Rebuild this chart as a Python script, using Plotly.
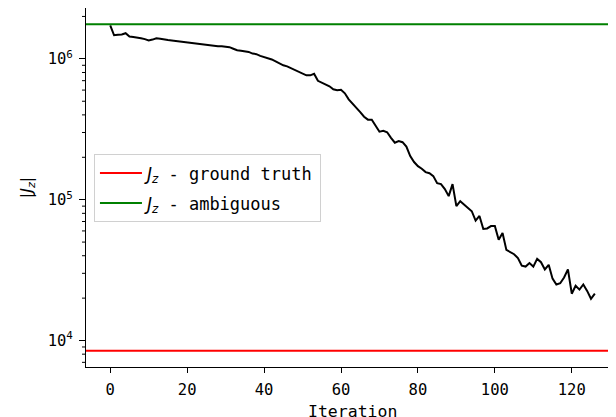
import plotly.graph_objects as go

# ---- data ----
iterations = list(range(127))
jz_values = [
    1.73e6, 1.47e6, 1.48e6, 1.49e6, 1.52e6, 1.44e6, 1.43e6, 1.42e6, 1.40e6, 1.38e6,
    1.35e6, 1.37e6, 1.40e6, 1.39e6, 1.37e6, 1.36e6, 1.35e6, 1.34e6, 1.33e6, 1.31e6,
    1.30e6, 1.30e6, 1.29e6, 1.28e6, 1.27e6, 1.25e6, 1.25e6, 1.24e6, 1.23e6, 1.23e6,
    1.22e6, 1.21e6, 1.18e6, 1.15e6, 1.14e6, 1.13e6, 1.12e6, 1.09e6, 1.08e6, 1.05e6,
    1.03e6, 1.02e6, 9.9e5, 9.6e5, 9.25e5, 9.0e5, 8.85e5, 8.6e5, 8.35e5, 8.15e5,
    7.95e5, 7.64e5, 7.64e5, 7.83e5, 6.98e5, 6.76e5, 6.59e5, 6.38e5, 6.08e5, 5.98e5,
    6.03e5, 5.69e5, 5.16e5, 4.83e5, 4.45e5, 4.18e5, 3.88e5, 3.70e5, 3.70e5, 3.38e5,
    3.04e5, 3.08e5, 3.01e5, 2.75e5, 2.54e5, 2.61e5, 2.56e5, 2.38e5, 2.04e5, 1.85e5,
    1.73e5, 1.66e5, 1.57e5, 1.54e5, 1.47e5, 1.31e5, 1.29e5, 1.19e5, 1.06e5, 1.29e5,
    9.0e4, 9.76e4, 9.2e4, 8.8e4, 8.28e4, 7.1e4, 7.67e4, 6.2e4, 6.25e4, 6.5e4,
    6.5e4, 5.2e4, 5.8e4, 4.4e4, 4.25e4, 4.1e4, 3.85e4, 3.4e4, 3.35e4, 3.55e4,
    3.35e4, 3.8e4, 3.6e4, 3.2e4, 3.45e4, 2.75e4, 2.5e4, 2.55e4, 2.8e4, 3.2e4,
    2.15e4, 2.45e4, 2.3e4, 2.5e4, 2.25e4, 1.98e4, 2.15e4,
]
ground_truth = 8.47e3
ambiguous = 1.76e6
x_range = [-6.3, 131.5]
x_tick_vals = [0, 20, 40, 60, 80, 100, 120]
y_log_range = [3.812, 6.361]
y_tick_vals = [1e4, 1e5, 1e6]
y_tick_text = ["10<sup>4</sup>", "10<sup>5</sup>", "10<sup>6</sup>"]
y_minor_vals = [m * 10 ** e for e in (3, 4, 5, 6) for m in range(2, 10)]

MONO = "DejaVu Sans Mono"
MATH = "DejaVu Sans"
jz = f"<span style='font-family:{MATH}'><i>J</i><sub><i>z</i></sub></span>"

fig = go.Figure()
fig.add_trace(go.Scatter(
    x=iterations, y=jz_values, mode="lines",
    line=dict(color="black", width=2), showlegend=False,
))

fig.add_shape(type="line", xref="x domain", x0=0, x1=1, yref="y",
              y0=ground_truth, y1=ground_truth,
              line=dict(color="red", width=2),
              showlegend=True, legendgroup="gt", name=f"{jz} - ground truth")
fig.add_shape(type="line", xref="x domain", x0=0, x1=1, yref="y",
              y0=ambiguous, y1=ambiguous,
              line=dict(color="green", width=2),
              showlegend=True, legendgroup="amb", name=f"{jz} - ambiguous")

# minor log ticks on the left spine (matplotlib style)
MINOR_LEN = 4 / 530  # tick length as a fraction of the plot width
for v in y_minor_vals:
    fig.add_shape(type="line", xref="x domain", x0=-MINOR_LEN, x1=0, yref="y",
                  y0=v, y1=v, line=dict(color="black", width=1), layer="above")

# x-axis title as an annotation so it can sit at the page's bottom edge
fig.add_annotation(text="Iteration", xref="paper", yref="paper",
                   x=0.502, y=-0.1244, xanchor="center", yanchor="middle",
                   showarrow=False, font=dict(family=MONO, size=16.5, color="black"))

# page body has an 8px margin: the figure div starts at (8, 8)
fig.update_layout(
    width=608, height=409,
    margin=dict(l=78, r=0, t=0, b=50, autoexpand=False),
    paper_bgcolor="white", plot_bgcolor="white",
    font=dict(family=MONO, size=15, color="black"),
    legend=dict(
        x=0.015, y=0.592, xanchor="left", yanchor="top",
        bgcolor="rgba(255,255,255,0.8)", bordercolor="#d0d0d0", borderwidth=1,
        font=dict(family=MONO, size=17, color="black"),
        itemwidth=42, traceorder="grouped", tracegroupgap=5,
    ),
    xaxis=dict(
        range=x_range, showgrid=False, zeroline=False, automargin=False,
        showline=True, linecolor="black", linewidth=1, mirror=True,
        ticks="outside", ticklen=5, tickwidth=1, tickcolor="black",
        tickvals=x_tick_vals, ticklabelstandoff=3,
        tickfont=dict(family=MONO, size=15.5),
    ),
    yaxis=dict(
        type="log", range=y_log_range, showgrid=False, zeroline=False, automargin=False,
        showline=True, linecolor="black", linewidth=1,
        ticks="outside", ticklen=6, tickwidth=1, tickcolor="black",
        tickvals=y_tick_vals, ticktext=y_tick_text, ticklabelstandoff=3,
        tickfont=dict(family=MONO, size=15.5),
        title=dict(text=f"|{jz}|", font=dict(family=MATH, size=16), standoff=11),
    ),
)

fig.write_html("out.html")
